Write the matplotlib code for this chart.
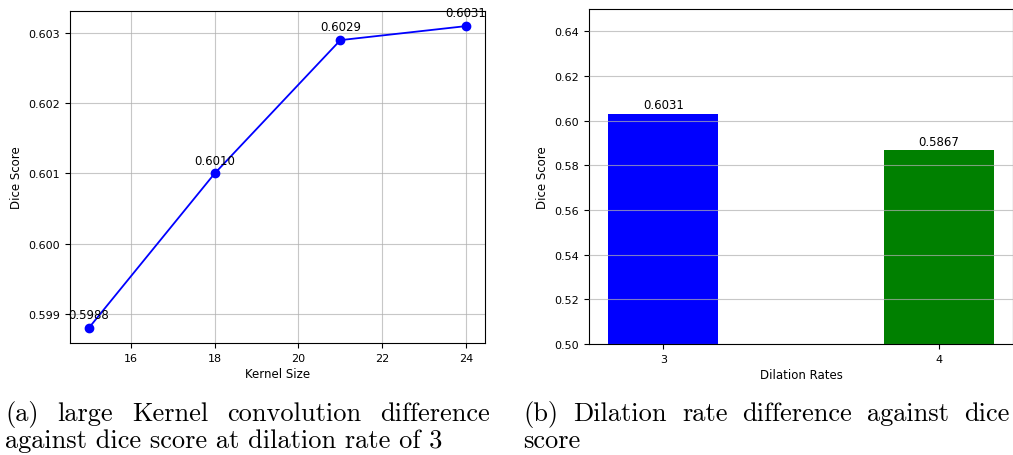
"""Two-panel ablation figure: kernel size line plot + dilation rate bars."""
import matplotlib
matplotlib.use("Agg")
import matplotlib.pyplot as plt

kernel_sizes = [15, 18, 21, 24]
kernel_dice = [0.5988, 0.6010, 0.6029, 0.6031]

dilation_rates = ["3", "4"]
dilation_dice = [0.6031, 0.5867]
bar_colors = ["blue", "green"]

caption_a = ["(a) large Kernel convolution difference",
             "against dice score at dilation rate of 3"]
caption_b = ["(b) Dilation rate difference against dice",
             "score"]

plt.rcParams["font.size"] = 8

fig = plt.figure(figsize=(10.13, 4.56), dpi=100)

# (a) kernel size
ax1 = fig.add_axes([70 / 1013, 1 - 344 / 456, 415 / 1013, 332 / 456])
ax1.plot(kernel_sizes, kernel_dice, color="blue", marker="o",
         markersize=6, linewidth=1.3)
for x, y in zip(kernel_sizes, kernel_dice):
    ax1.annotate(f"{y:.4f}", (x, y), xytext=(0, 5), textcoords="offset points",
                 ha="center", va="bottom", fontsize=8.5)
ax1.set_xticks([16, 18, 20, 22, 24])
ax1.set_yticks([0.599, 0.600, 0.601, 0.602, 0.603])
ax1.set_xlabel("Kernel Size", labelpad=3, fontsize=8.5)
ax1.set_ylabel("Dice Score", fontsize=8.5)
ax1.grid(True, color="#b0b0b0", linewidth=0.8, alpha=0.7)

# (b) dilation rate
ax2 = fig.add_axes([589 / 1013, 1 - 345 / 456, 424 / 1013, 335 / 456])
xs = [3, 4]
bars = ax2.bar(xs, dilation_dice, width=0.4, color=bar_colors)
for rect, v in zip(bars, dilation_dice):
    ax2.annotate(f"{v:.4f}", (rect.get_x() + rect.get_width() / 2, v),
                 xytext=(0, 2), textcoords="offset points",
                 ha="center", va="bottom", fontsize=8.5)
ax2.set_xticks(xs, dilation_rates)
ax2.set_ylim(0.50, 0.65)
ax2.set_yticks([0.50, 0.52, 0.54, 0.56, 0.58, 0.60, 0.62, 0.64])
ax2.set_xlabel("Dilation Rates", labelpad=3, fontsize=8.5)
ax2.set_ylabel("Dice Score", fontsize=8.5)
ax2.yaxis.grid(True, color="#b0b0b0", linewidth=0.8, alpha=0.7)
ax2.set_axisbelow(False)

# captions (LaTeX-like, first line justified)
renderer = fig.canvas.get_renderer()
cap_font = dict(family="cmr10", fontsize=19)


def justified(line, x0, x1, y):
    words = line.split()
    texts = [fig.text(0, y, w, transform=None, **cap_font) for w in words]
    widths = [t.get_window_extent(renderer).width for t in texts]
    gap = (x1 - x0 - sum(widths)) / (len(words) - 1)
    x = x0
    for t, w in zip(texts, widths):
        t.set_position((x, y))
        x += w + gap


def plain(line, x0, y):
    fig.text(x0, y, line, transform=None, **cap_font)


base1 = 456 - 421
base2 = 456 - 448
justified(caption_a[0], 5, 490, base1)
plain(caption_a[1], 5, base2)
justified(caption_b[0], 523, 1010, base1)
plain(caption_b[1], 523, base2)

fig.savefig("out.png", dpi=100)
